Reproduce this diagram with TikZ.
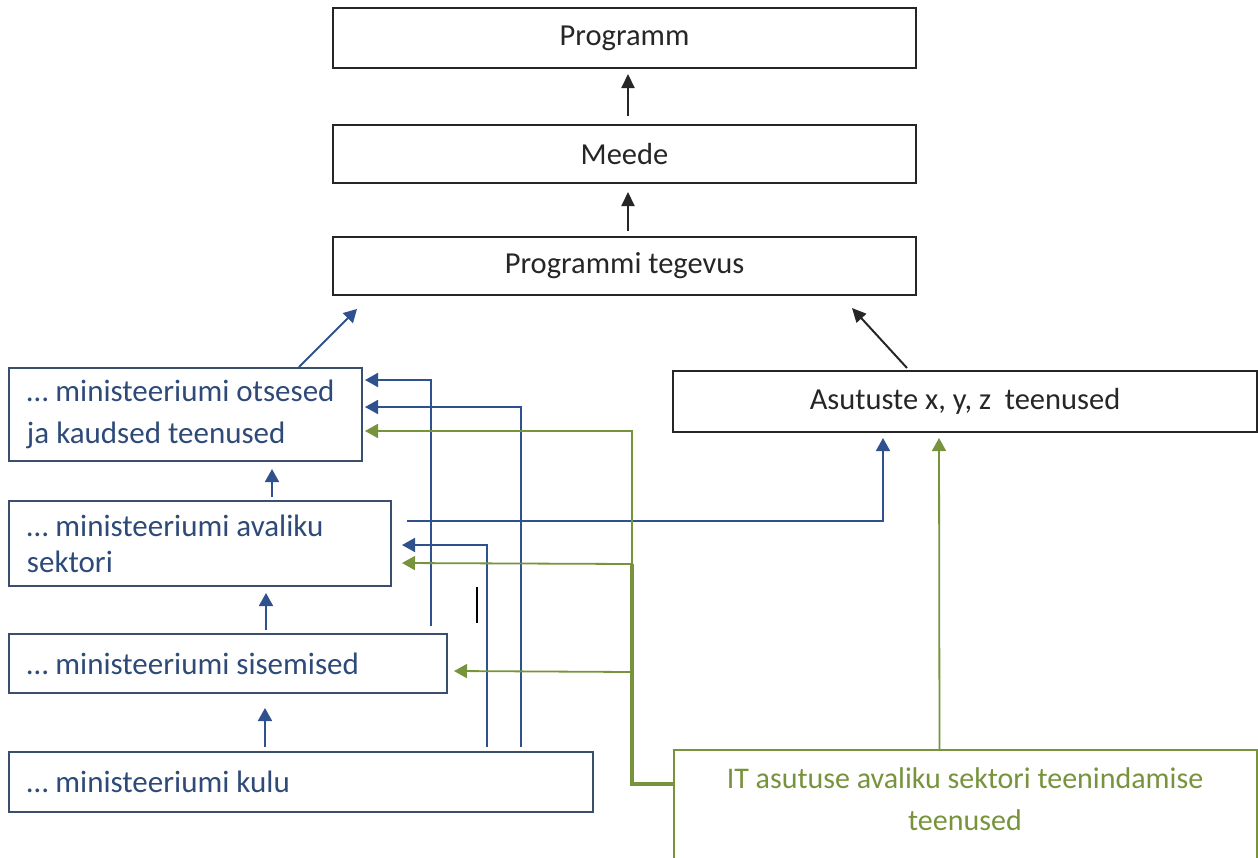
\documentclass[tikz,border=0pt]{standalone}
\usepackage{fontspec}
\setmainfont{Carlito}
\usetikzlibrary{arrows.meta,calc}
\definecolor{dblue}{HTML}{2F528F}
\definecolor{tblue}{HTML}{2E4A78}
\definecolor{bblue}{HTML}{3A4F6E}
\definecolor{ogreen}{HTML}{77933C}
\begin{document}
\begin{tikzpicture}[x=1pt,y=-1pt,
  topbox/.style={draw=black!85, line width=2pt, minimum width=583pt, minimum height=58pt, inner sep=0pt, font=\fontsize{30.5}{36}\selectfont, text=black!85},
  leftbox/.style={draw=bblue, line width=2pt, inner xsep=18pt, inner ysep=0pt, align=flush left, text=tblue, font=\fontsize{31}{36}\selectfont},
  blk/.style={-{Triangle[width=13pt,length=14pt]}, line width=2pt, black!85},
  bl/.style={-{Triangle[width=14pt,length=13pt]}, line width=1.8pt, dblue},
  gr/.style={-{Triangle[width=14pt,length=13pt]}, line width=1.8pt, ogreen}]
\useasboundingbox (0,0) rectangle (1258,857);
\clip (0,0) rectangle (1258,857);

% top boxes
\node[topbox, minimum height=60pt] (prog) at (624.5,38) {Programm};
\node[topbox] (meede) at (624.5,154) {Meede};
\node[topbox] (teg) at (624.5,266) {Programmi tegevus};

% left boxes
\node[leftbox, text width=317pt, minimum height=93pt, font=\fontsize{31}{42}\selectfont] (ots) at (185.5,414.5) {… ministeeriumi otsesed\\ja kaudsed teenused};
\node[leftbox, text width=346pt, minimum height=85pt] (ava) at (200,543.5) {… ministeeriumi avaliku\\sektori};
\node[leftbox, text width=402pt, minimum height=59pt] (sis) at (228,663.5) {… ministeeriumi sisemised};
\node[leftbox, text width=548pt, minimum height=60pt] (kulu) at (301,782) {… ministeeriumi kulu};

% right boxes
\node[topbox, minimum width=584pt, minimum height=61pt] (asu) at (965,401.5) {Asutuste x, y, z\ \ teenused};
\node[draw=ogreen, line width=2pt, minimum width=583pt, minimum height=110pt, inner sep=0pt] (it) at (965,805) {};
\node[text=ogreen, font=\fontsize{30}{42}\selectfont, align=center, inner sep=0pt] (ittext) at (965,799) {IT asutuse avaliku sektori teenindamise\\teenused};

% black arrows
\draw[blk] ($(meede.north)+(3.5,-8)$) -- ($(prog.south)+(3.5,5)$);
\draw[blk] ($(teg.north)+(3.5,-5)$) -- ($(meede.south)+(3.5,8)$);
\draw[blk] ($(asu.north west)+(235,-2)$) -- ($(teg.south east)+(-65,12)$);

% blue vertical arrows
\draw[bl] ($(ots.north west)+(291,0)$) -- ($(teg.south west)+(25,13)$);
\draw[bl] ($(ava.north west)+(264,-3)$) -- ($(ots.south west)+(264,7)$);
\draw[bl] ($(sis.north west)+(258,-3)$) -- ($(ava.south west)+(258,6)$);
\draw[bl] ($(kulu.north west)+(257,-4)$) -- ($(sis.south west)+(257,14)$);

% blue elbow connectors
\coordinate (s1) at ($(sis.north west)+(423,-7)$);
\coordinate (k1) at ($(kulu.north west)+(513,-4)$);
\coordinate (k2) at ($(kulu.north west)+(479,-4)$);
\coordinate (a1) at ($(ava.north east)+(15,21)$);
\draw[bl] (s1) |- ($(ots.north east)+(2,13)$);
\draw[bl] (k1) |- ($(ots.north east)+(2,40)$);
\draw[bl] (k2) |- ($(ava.north east)+(10,45)$);
\draw[bl] (a1) -| ($(asu.south west)+(211,5)$);

% green connectors
\coordinate (g0) at ($(it.north west)+(0,35)$);
\coordinate (gx) at (632,564);
\draw[ogreen, line width=3.5pt] (g0) -| (gx);
\draw[gr] (gx) |- ($(ots.north east)+(2,64)$);
\draw[gr] (gx) -- ($(ava.north east)+(10,63)$);
\draw[gr] (gx |- 0,672) -- ($(sis.north east)+(6,38)$);
\draw[gr] ($(it.north west)+(267,0)$) -- ($(asu.south west)+(267,5)$);

% stray mark
\draw[line width=1.8pt, black] (477,587) -- (477,623);
\end{tikzpicture}
\end{document}
